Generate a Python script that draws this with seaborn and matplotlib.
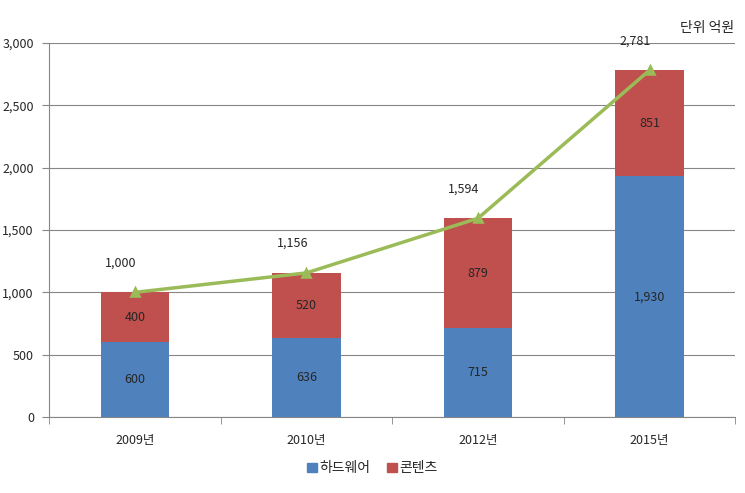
import pandas as pd
import seaborn as sns
import matplotlib.pyplot as plt
from matplotlib.patches import Patch

# datos
years = ['2009년', '2010년', '2012년', '2015년']
hardware = [600, 636, 715, 1930]
contents = [400, 520, 879, 851]
totals = [1000, 1156, 1594, 2781]

df = pd.DataFrame({'year': years, 'hw': hardware, 'ct': contents, 'total': totals})

sns.set_style('white')
plt.rcParams['font.family'] = ['Noto Sans CJK KR', 'DejaVu Sans']

c_blue = '#4F81BD'
c_red = '#C0504D'
c_green = '#9BBB59'

fig = plt.figure(figsize=(7.45, 4.93), dpi=100)
ax = fig.add_axes([0.066, 0.154, 0.921, 0.759])

# barras apiladas: total en rojo, hardware en azul encima
sns.barplot(data=df, x='year', y='total', color=c_red, width=0.4, saturation=1,
            edgecolor='none', linewidth=0, ax=ax, zorder=2)
sns.barplot(data=df, x='year', y='hw', color=c_blue, width=0.4, saturation=1,
            edgecolor='none', linewidth=0, ax=ax, zorder=3)

# línea de totales
sns.pointplot(data=df, x='year', y='total', color=c_green, markers='^', markersize=6,
              linewidth=2.5, ax=ax, zorder=5)

for i in range(len(years)):
    ax.text(i, hardware[i] / 2, f'{hardware[i]:,}', ha='center', va='center', fontsize=9, zorder=6)
    ax.text(i, hardware[i] + contents[i] / 2, f'{contents[i]:,}', ha='center', va='center', fontsize=9, zorder=6)
    ax.annotate(f'{totals[i]:,}', (i, totals[i]), xytext=(-14, 23), textcoords='offset pixels',
                ha='center', va='bottom', fontsize=9, zorder=6)

ax.set_ylim(0, 3000)
ax.set_xlim(-0.5, 3.5)
ax.set_yticks(range(0, 3001, 500))
ax.set_yticklabels([f'{v:,}' for v in range(0, 3001, 500)], fontsize=9)
ax.set_xticklabels(years, fontsize=9)
ax.set_xlabel('')
ax.set_ylabel('')
ax.yaxis.grid(True, color='#868686', linewidth=0.8)
ax.set_axisbelow(True)

for s in ['top', 'right']:
    ax.spines[s].set_visible(False)
ax.spines['left'].set_color('#868686')
ax.spines['bottom'].set_color('#868686')
ax.tick_params(axis='y', length=5, color='#868686', left=True, pad=6)
ax.tick_params(axis='x', length=0, pad=12)
ax.set_xticks([-0.5, 0.5, 1.5, 2.5, 3.5], minor=True)
ax.tick_params(axis='x', which='minor', length=5, color='#868686', bottom=True)

fig.text(0.985, 0.93, '단위 억원', ha='right', va='bottom', fontsize=10)

handles = [Patch(color=c_blue, label='하드웨어'), Patch(color=c_red, label='콘텐츠')]
fig.legend(handles=handles, loc='center', bbox_to_anchor=(0.5, 0.05), ncol=2, frameon=False,
           fontsize=10, handlelength=0.7, handleheight=0.7, handletextpad=0.2, columnspacing=1.2)

plt.savefig('out.png', dpi=100)
